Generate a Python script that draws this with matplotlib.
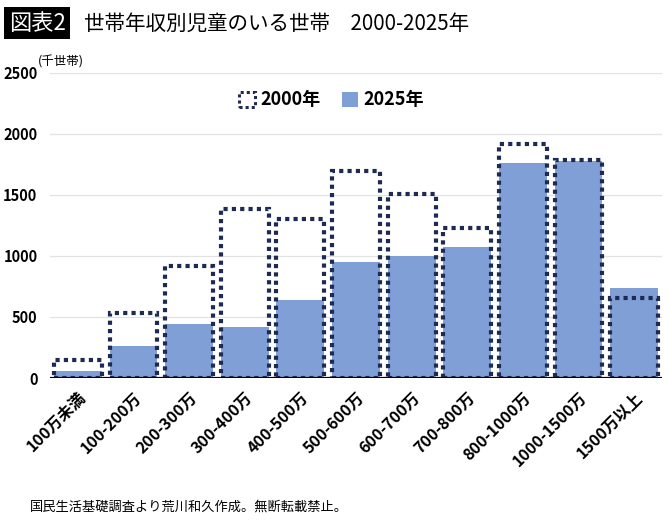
import matplotlib
matplotlib.use("Agg")
import matplotlib.pyplot as plt
from matplotlib.patches import Patch
import numpy as np

plt.rcParams['font.family'] = ['Noto Sans CJK JP', 'DejaVu Sans']

# Data (千世帯)
categories = ["100万未満", "100-200万", "200-300万", "300-400万", "400-500万",
              "500-600万", "600-700万", "700-800万", "800-1000万",
              "1000-1500万", "1500万以上"]
values_2000 = [150, 533, 921, 1385, 1303, 1694, 1508, 1227, 1915, 1784, 656]
values_2025 = [55, 260, 443, 415, 639, 951, 1000, 1071, 1760, 1780, 735]

fill_color = "#7f9fd6"
dot_color = "#1f2a52"

fig = plt.figure(figsize=(6.7, 5.2), dpi=100)
ax = fig.add_axes([0.0746, 0.273, 0.9134, 0.587])

x = np.arange(len(categories))
width = 0.86

ax.bar(x, values_2025, width=width, color=fill_color, zorder=2)
ax.bar(x, values_2000, width=width, facecolor="none", edgecolor=dot_color,
       linewidth=3.0, linestyle=(0, (1, 1)), zorder=3)

ax.set_xlim(-0.5, len(categories) - 0.5)
ax.set_ylim(0, 2500)
ax.set_yticks([0, 500, 1000, 1500, 2000, 2500])
ax.yaxis.grid(True, color="#e3e3e3", linewidth=0.9, zorder=0)
ax.set_axisbelow(True)
ax.axhline(0, color="black", linewidth=1.6, zorder=4)

for s in ax.spines.values():
    s.set_visible(False)
ax.tick_params(axis="both", length=0)
ax.tick_params(axis="y", pad=9, labelsize=10.5)
for lbl in ax.get_yticklabels():
    lbl.set_fontweight("bold")

ax.set_xticks(x)
ax.set_xticklabels(categories, rotation=45, ha="right", rotation_mode="anchor",
                   fontsize=11.5, fontweight="bold")
ax.tick_params(axis="x", pad=8)

# unit label
fig.text(0.057, 0.868, "(千世帯)", fontsize=9, ha="left", va="bottom")

# legend
handles = [Patch(facecolor="none", edgecolor=dot_color, linewidth=2.2, linestyle=(0, (1, 1))),
           Patch(facecolor=fill_color, edgecolor="none")]
leg = ax.legend(handles, ["2000年", "2025年"], loc="center", bbox_to_anchor=(0.46, 0.911),
                ncol=2, frameon=False, prop={"weight": "bold", "size": 13},
                handlelength=0.9, handleheight=0.9, handletextpad=0.3, columnspacing=1.2)

# title
fig.text(0.013, 0.955, "図表2", fontsize=16, color="white", ha="left", va="center",
         bbox=dict(boxstyle="square,pad=0.2", facecolor="black", edgecolor="none"))
fig.text(0.125, 0.955, "世帯年収別児童のいる世帯\u30002000-2025年", fontsize=14.8,
         ha="left", va="center")

# source
fig.text(0.045, 0.025, "国民生活基礎調査より荒川和久作成。無断転載禁止。", fontsize=9.5,
         ha="left", va="center")

fig.savefig("out.png", dpi=100)
